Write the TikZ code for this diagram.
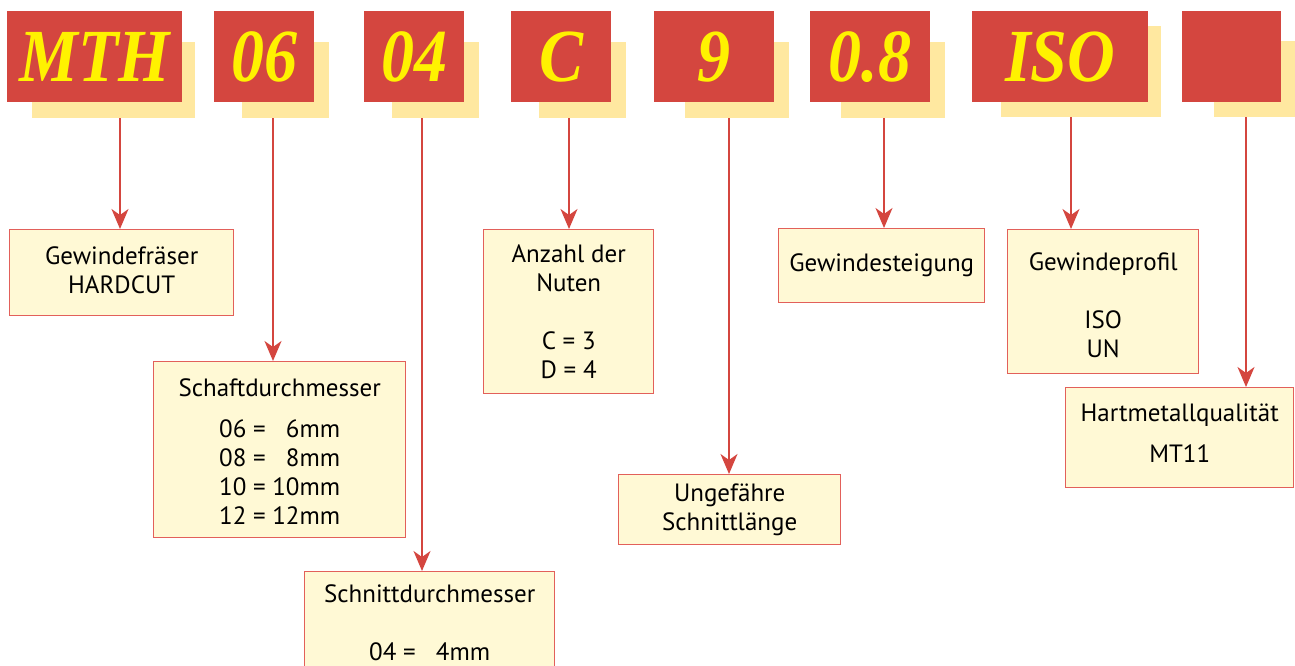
\documentclass[tikz,border=0pt]{standalone}
\usepackage{fontspec}
\setmainfont{PT Sans}
\newfontfamily\codefont[FakeStretch=0.88]{Liberation Serif}
\usetikzlibrary{arrows.meta}

\definecolor{codered}{HTML}{D4463F}
\definecolor{codeyellow}{HTML}{FFF200}
\definecolor{shadowbeige}{HTML}{FFE8A0}
\definecolor{boxfill}{HTML}{FFF9D5}
\definecolor{boxline}{HTML}{E2605A}

\tikzset{
  codebox/.style={fill=codered, anchor=north west, inner sep=0pt, text=codeyellow,
    font=\codefont\bfseries\itshape\fontsize{75}{75}\selectfont},
  shadowbox/.style={fill=shadowbeige, anchor=north west, inner sep=0pt},
  infobox/.style={draw=boxline, fill=boxfill, line width=1.4pt, anchor=north west,
    inner sep=0pt, align=center, font=\fontsize{25}{29}\selectfont},
  arr/.style={draw=codered, line width=1.6pt, -{Stealth[length=20pt,width=17pt,inset=6pt]}}
}

\begin{document}
\begin{tikzpicture}[x=1pt,y=-1pt]
  \useasboundingbox (0,0) rectangle (1295,666);

  % Schatten
  \node[shadowbox, minimum width=163pt, minimum height=76pt] (s1) at (32,42) {};
  \node[shadowbox, minimum width=87pt, minimum height=76pt] (s2) at (242,42) {};
  \node[shadowbox, minimum width=87pt, minimum height=76pt] (s3) at (392,42) {};
  \node[shadowbox, minimum width=87pt, minimum height=76pt] (s4) at (539,42) {};
  \node[shadowbox, minimum width=104pt, minimum height=76pt] (s5) at (685,42) {};
  \node[shadowbox, minimum width=104pt, minimum height=76pt] (s6) at (841,42) {};
  \node[shadowbox, minimum width=160pt, minimum height=91pt] (s7) at (1001,26) {};
  \node[shadowbox, minimum width=90pt, minimum height=76pt] (s8) at (1214,41) {};

  % Bezeichnung
  \node[codebox, minimum width=175pt, minimum height=91pt] (h1) at (7,11) {MTH};
  \node[codebox, minimum width=100pt, minimum height=91pt] (h2) at (214,11) {06};
  \node[codebox, minimum width=100pt, minimum height=91pt] (h3) at (364,11) {04};
  \node[codebox, minimum width=100pt, minimum height=91pt] (h4) at (511,11) {C};
  \node[codebox, minimum width=120pt, minimum height=91pt] (h5) at (654,11) {9};
  \node[codebox, minimum width=120pt, minimum height=91pt] (h6) at (810,11) {0.8};
  \node[codebox, minimum width=176pt, minimum height=91pt] (h7) at (972,11) {ISO};
  \node[codebox, minimum width=99pt, minimum height=91pt] (h8) at (1182,11) {};

  % Erklaerungen
  \node[infobox, minimum width=224pt, minimum height=86pt] (b1) at (9,229)
    {Gewindefräser\\HARDCUT\rule[-6pt]{0pt}{0pt}};
  \node[infobox, minimum width=252pt, minimum height=176pt] (b2) at (153,361)
    {\rule{0pt}{30pt}Schaftdurchmesser\\[19pt]
     \begin{tabular}{@{}r@{ = }r@{}}06 & 6mm\\08 & 8mm\\10 & 10mm\\12 & 12mm\end{tabular}};
  \node[infobox, minimum width=250pt, minimum height=102pt] (b3) at (304,571)
    {Schnittdurchmesser\\[29pt]04 = \phantom{0}4mm};
  \node[infobox, minimum width=170pt, minimum height=164pt] (b4) at (483,229)
    {Anzahl der\\Nuten\\[29pt]C = 3\\D = 4};
  \node[infobox, minimum width=222pt, minimum height=70pt] (b5) at (618,474)
    {Ungefähre\\Schnittlänge};
  \node[infobox, minimum width=206pt, minimum height=74pt] (b6) at (778,228)
    {Gewindesteigung};
  \node[infobox, minimum width=191pt, minimum height=144pt] (b7) at (1007,229)
    {\rule{0pt}{25pt}Gewindeprofil\\[29pt]ISO\\UN};
  \node[infobox, minimum width=228pt, minimum height=100pt] (b8) at (1065,387)
    {Hartmetallqualität\\[12pt]MT11\rule[-10pt]{0pt}{0pt}};

  % Pfeile
  \draw[arr] (s1.south -| 120,0) -- (b1.north -| 120,0);
  \draw[arr] (s2.south -| 273,0) -- (b2.north -| 273,0);
  \draw[arr] (s3.south -| 422,0) -- (b3.north -| 422,0);
  \draw[arr] (s4.south -| 569,0) -- (b4.north -| 569,0);
  \draw[arr] (s5.south -| 729,0) -- (b5.north -| 729,0);
  \draw[arr] (s6.south -| 884,0) -- (b6.north -| 884,0);
  \draw[arr] (s7.south -| 1071,0) -- (b7.north -| 1071,0);
  \draw[arr] (s8.south -| 1246,0) -- (b8.north -| 1246,0);
\end{tikzpicture}
\end{document}
